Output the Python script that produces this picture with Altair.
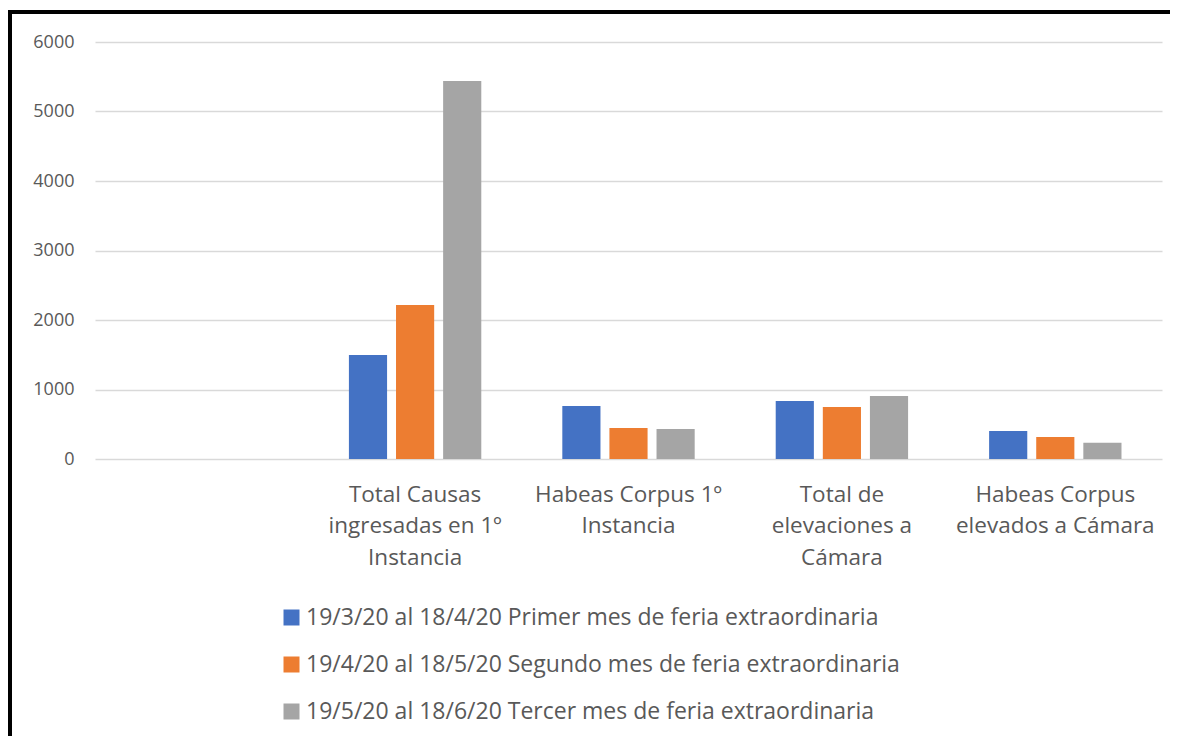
import altair as alt
import pandas as pd

# Category keys ("|" marks a line break in the axis label); first category is blank
categories = ["",
              "Total Causas|ingresadas en 1º|Instancia",
              "Habeas Corpus 1º|Instancia",
              "Total de|elevaciones a|Cámara",
              "Habeas Corpus|elevados a  Cámara"]
data_categories = categories[1:]

series = ["19/3/20 al 18/4/20 Primer mes de feria extraordinaria",
          "19/4/20 al 18/5/20 Segundo mes de feria extraordinaria",
          "19/5/20 al 18/6/20 Tercer mes de feria extraordinaria"]

primer = [1496, 763, 835, 403]
segundo = [2216, 446, 748, 317]
tercer = [5440, 432, 906, 235]

colors = ["#4472C4", "#ED7D31", "#A5A5A5"]
y_ticks = [0, 1000, 2000, 3000, 4000, 5000, 6000]

rows = []
for s, vals in zip(series, [primer, segundo, tercer]):
    for c, v in zip(data_categories, vals):
        rows.append({"categoria": c, "serie": s, "valor": v})
df = pd.DataFrame(rows)

FONT = "Open Sans, sans-serif"
TXT = "#595959"

bars = alt.Chart(df).mark_bar().encode(
    x=alt.X("categoria:N", sort=categories,
            scale=alt.Scale(domain=categories, paddingInner=0, paddingOuter=0),
            axis=alt.Axis(title=None, labelAngle=0, ticks=False, domain=False, grid=False,
                          labelExpr="split(datum.label, '|')",
                          labelFontSize=22.5, labelLineHeight=31.5, labelPadding=24,
                          labelColor=TXT, labelFont=FONT, labelLimit=400,
                          labelOverlap=False)),
    xOffset=alt.XOffset("serie:N", sort=series,
                        scale=alt.Scale(paddingInner=0.19, paddingOuter=0.86)),
    y=alt.Y("valor:Q", scale=alt.Scale(domain=[0, 6000], nice=False),
            axis=alt.Axis(title=None, values=y_ticks, ticks=False, domain=False,
                          format="d",
                          grid=True, gridColor="#d9d9d9", gridWidth=1.5,
                          labelFontSize=18, labelColor=TXT, labelFont=FONT,
                          labelPadding=21)),
    color=alt.Color("serie:N", sort=series,
                    scale=alt.Scale(domain=series, range=colors),
                    legend=alt.Legend(title=None, orient="none", legendX=185, legendY=564,
                                      direction="vertical", symbolType="square",
                                      symbolSize=256, symbolStrokeWidth=0,
                                      labelFontSize=23, labelColor=TXT, labelFont=FONT,
                                      labelLimit=900, rowPadding=23, labelOffset=3)),
)

frame = alt.Chart(pd.DataFrame({"a": [0]})).mark_rect(
    fill=None, stroke="black", strokeWidth=4, clip=False
).encode(x=alt.value(-85), x2=alt.value(1120), y=alt.value(-30), y2=alt.value(820))

chart = alt.layer(bars, frame).properties(
    width=1067, height=417,
    autosize="none",
    padding={"left": 87, "top": 34, "right": 8, "bottom": 277},
    background="white",
).configure_view(strokeWidth=0)

chart.save("out.html", embed_options={"renderer": "svg", "actions": False})
